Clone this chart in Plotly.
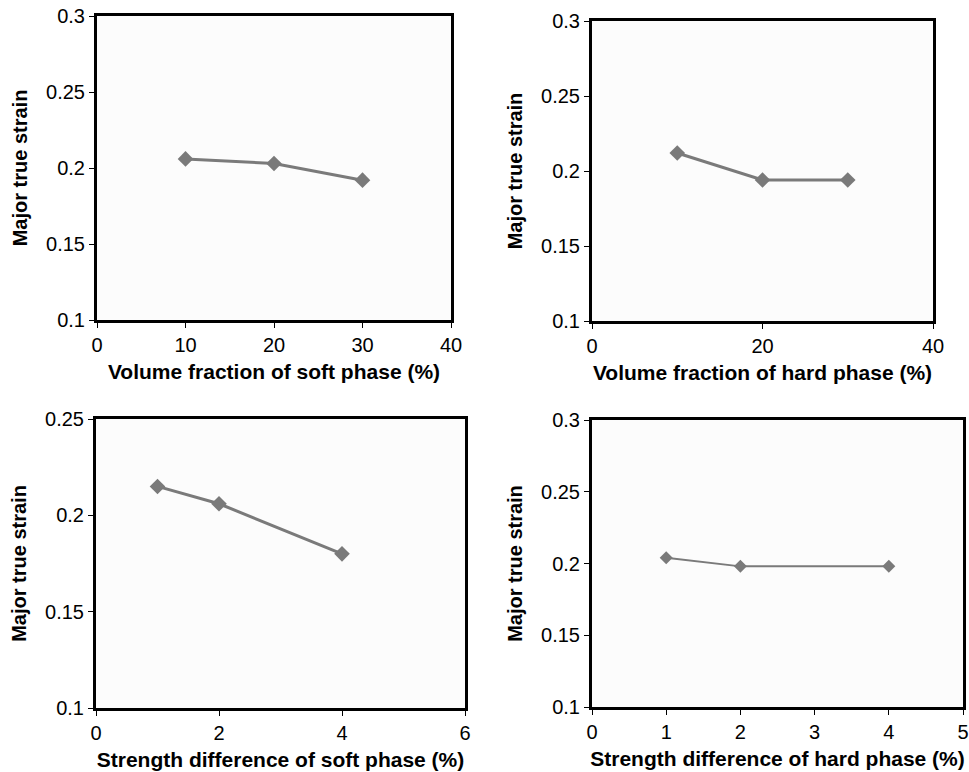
import plotly.graph_objects as go

# Panel (a): volume fraction of soft phase
soft_vf_x = [10, 20, 30]
soft_vf_y = [0.206, 0.203, 0.192]
# Panel (b): volume fraction of hard phase
hard_vf_x = [10, 20, 30]
hard_vf_y = [0.212, 0.194, 0.194]
# Panel (c): strength difference of soft phase
soft_sd_x = [1, 2, 4]
soft_sd_y = [0.215, 0.206, 0.180]
# Panel (d): strength difference of hard phase
hard_sd_x = [1, 2, 4]
hard_sd_y = [0.204, 0.198, 0.198]

x_titles = ["Volume fraction of soft phase (%)",
            "Volume fraction of hard phase (%)",
            "Strength difference of soft phase (%)",
            "Strength difference of hard phase (%)"]
y_title = "Major true strain"

W, H = 969, 772
# pixel boxes: left, right, top, bottom
boxes = [(97, 451, 16, 320), (592, 933, 21, 321), (96, 465, 419, 708), (592, 963, 420, 707)]
xranges = [(0, 40, 10), (0, 40, 20), (0, 6, 2), (0, 5, 1)]
yranges = [(0.1, 0.3, 0.05), (0.1, 0.3, 0.05), (0.1, 0.25, 0.05), (0.1, 0.3, 0.05)]
series = [(soft_vf_x, soft_vf_y), (hard_vf_x, hard_vf_y), (soft_sd_x, soft_sd_y), (hard_sd_x, hard_sd_y)]
lw = [3, 3, 3, 2]
ms = [12, 12, 12, 10]

fig = go.Figure()
font = "Liberation Sans, Arial, sans-serif"
for i, ((xs, ys), (l, r, t, b)) in enumerate(zip(series, boxes)):
    n = "" if i == 0 else str(i + 1)
    fig.add_trace(go.Scatter(x=xs, y=ys, mode="lines+markers",
                             xaxis="x" + n, yaxis="y" + n,
                             line=dict(color="#7a7a7a", width=lw[i]),
                             marker=dict(symbol="diamond", size=ms[i], color="#7a7a7a"),
                             showlegend=False, cliponaxis=False))
    x0, x1, dx = xranges[i]
    y0, y1, dy = yranges[i]
    common = dict(showline=True, linecolor="black", linewidth=3, mirror=True,
                  ticks="outside", ticklen=5, tickwidth=1, tickcolor="black",
                  showgrid=False, zeroline=False, automargin=False,
                  ticklabeloverflow="allow",
                  tickfont=dict(family=font, size=20, color="black"))
    fig.layout["xaxis" + n] = dict(common, domain=[l / W, r / W], range=[x0, x1], dtick=dx, tick0=0,
                                   anchor="y" + n,
                                   title=dict(text="<b>" + x_titles[i] + "</b>", standoff=10,
                                              font=dict(family=font, size=21, color="black")))
    fig.layout["yaxis" + n] = dict(common, domain=[1 - b / H, 1 - t / H], range=[y0, y1], dtick=dy, tick0=0.1,
                                   anchor="x" + n,
                                   title=dict(text="<b>" + y_title + "</b>", standoff=14,
                                              font=dict(family=font, size=20, color="black")))

fig.update_layout(width=W, height=H, margin=dict(l=0, r=0, t=0, b=0),
                  paper_bgcolor="white", plot_bgcolor="#fcfcfc")
fig.write_html("out.html", config={"displayModeBar": False},
               post_script="document.body.style.margin='0';document.body.style.overflow='hidden';")
